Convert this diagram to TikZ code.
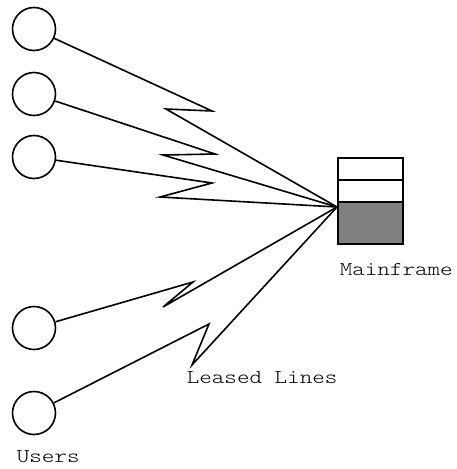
\documentclass[tikz,border=0pt]{standalone}
\usepackage{fontspec}
\newfontfamily\labelfont[FakeStretch=1.22]{Latin Modern Mono Light}
\begin{document}
\begin{tikzpicture}[x=1pt,y=-1pt,
  line width=1.6pt, line join=miter,
  user/.style={circle,draw,minimum size=43pt,inner sep=0pt},
  slot/.style={draw,minimum width=65pt,inner sep=0pt,anchor=north west},
  label/.style={inner sep=0pt,anchor=base west,font=\labelfont\fontsize{19.6}{24}\selectfont},
  link/.style={draw}]
\useasboundingbox (0,0) rectangle (456,469);

% users
\node[user] (u1) at (34,29) {};
\node[user] (u2) at (34,94) {};
\node[user] (u3) at (34,157) {};
\node[user] (u4) at (34,328) {};
\node[user] (u5) at (34,413) {};

% mainframe
\node[slot,minimum height=22pt] (m1) at (337,157) {};
\node[slot,minimum height=22pt] (m2) at (337,179) {};
\node[slot,minimum height=42pt,fill={rgb,255:red,128;green,128;blue,128}] (m3) at (337,201) {};
\coordinate (hub) at (337,207);

% leased lines with lightning bends
\coordinate (a1) at (212,111); \coordinate (b1) at (166,109);
\coordinate (a2) at (215,154); \coordinate (b2) at (163,155);
\coordinate (a3) at (212,183); \coordinate (b3) at (160,197);
\coordinate (a4) at (193,282); \coordinate (b4) at (163,307);
\coordinate (a5) at (209,324); \coordinate (b5) at (192,365);
\foreach \i in {1,...,5}{
  \path[link] (u\i) -- (a\i) -- (b\i) -- (hub);
}

% labels
\node[label] (tm) at (339,275) {Mainframe};
\node[label] (tl) at (186,383) {Leased Lines};
\node[label] (tu) at (16,462) {Users};
\end{tikzpicture}
\end{document}
